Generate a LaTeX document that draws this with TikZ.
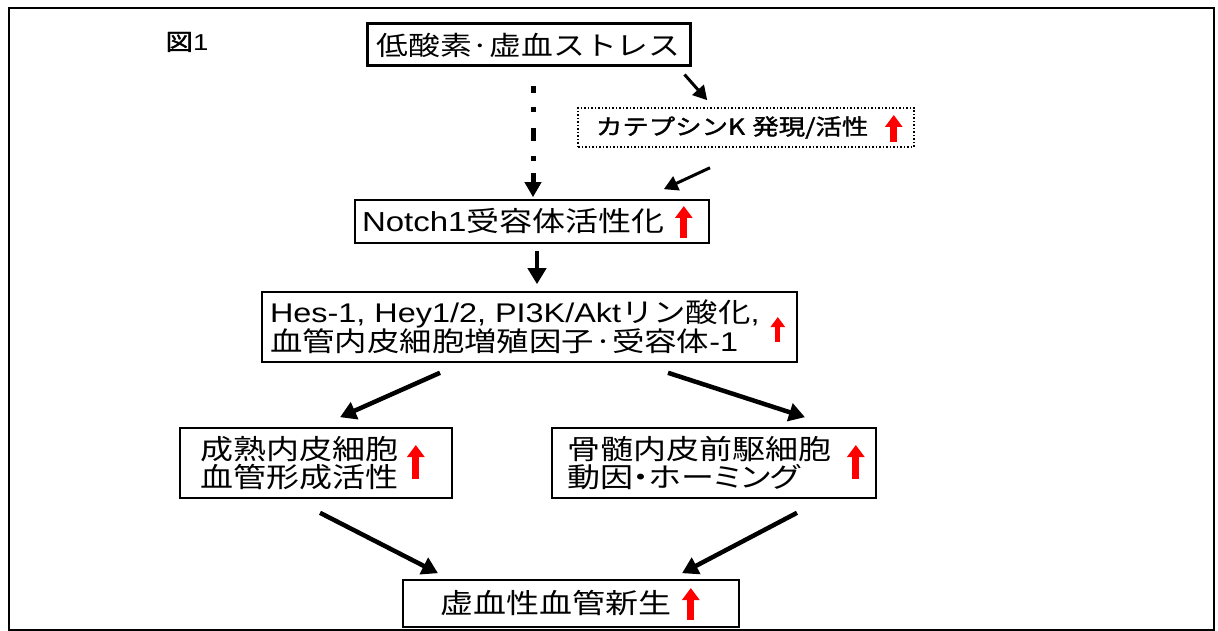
\documentclass[tikz,border=0pt]{standalone}
\usepackage{fontspec}
\setmainfont{Noto Sans CJK JP}[FakeStretch=1.2]
\newfontfamily\boldjp{Noto Sans CJK JP}[FakeStretch=1.2,FakeBold=1.5]
\newfontfamily\paltjp{Noto Sans CJK JP}[FakeStretch=1.2,RawFeature=+palt]
\newfontfamily\lat{Liberation Sans}[FakeStretch=1.2]
\usetikzlibrary{arrows.meta,calc}
\tikzset{
  box/.style={draw, line width=1.6pt, inner ysep=0pt, align=left,
    font=\fontsize{27.5}{28}\selectfont},
  arr/.style={line width=3pt, -{Triangle[width=15pt,length=14pt]}},
  bigarr/.style={line width=4.5pt, -{Triangle[width=18pt,length=16pt]}},
  up/.style={red, line width=7pt, -{Triangle[width=17pt,length=12pt]}},
}
\begin{document}
\begin{tikzpicture}[x=1pt,y=-1pt]
\useasboundingbox (0,0) rectangle (1218,631);
\draw[line width=2.2pt] (9,8) rectangle (1214,630);
\node[font=\boldjp\fontsize{23}{24}\selectfont] (fig) at (187,42) {図{\lat 1}};

\node[box, line width=3pt, align=center, minimum width=323pt, minimum height=42pt,
  font=\fontsize{26.5}{28}\selectfont] (top) at (528.5,45) {低酸素·虚血ストレス};
\node[box, line width=1.5pt, dotted, minimum height=39pt, text width=300pt, inner xsep=18pt,
  font=\boldjp\fontsize{22}{24}\selectfont] (cath) at (746,127.5) {カテプシンK 発現/活性};
\node[box, minimum height=43pt, text width=340pt, inner xsep=7pt] (notch) at (532,221.5) {{\lat Notch1}受容体活性化};
\node[box, minimum height=70pt, text width=519pt, inner xsep=8pt,
  font=\fontsize{27}{28}\selectfont] (hes) at (529.5,327)
  {{\lat Hes-1, Hey1/2, PI3K/Akt}リン酸化{\lat ,}\\血管内皮細胞増殖因子·受容体{\lat -1}};
\node[box, minimum height=70pt, text width=232pt, inner xsep=20pt] (mat) at (316,463)
  {成熟内皮細胞\\血管形成活性};
\node[box, minimum height=70pt, text width=294pt, inner xsep=15pt] (bm) at (714,463)
  {骨髄内皮前駆細胞\\{\paltjp 動因・ホーミング}};
\node[box, minimum height=47pt, text width=262pt, inner xsep=37pt] (isch) at (571,603.5)
  {虚血性血管新生};

% red up arrows
\draw[up] ($(cath.east)+(-21,14.5)$) -- ($(cath.east)+(-21,-12.5)$);
\draw[up] ($(notch.east)+(-26,16.5)$) -- ($(notch.east)+(-26,-15.5)$);
\draw[up, line width=5pt, -{Triangle[width=14pt,length=10pt]}] ($(hes.east)+(-20,15)$) -- ($(hes.east)+(-20,-10)$);
\draw[up] ($(mat.east)+(-37,16)$) -- ($(mat.east)+(-37,-18)$);
\draw[up] ($(bm.east)+(-21,16)$) -- ($(bm.east)+(-21,-18)$);
\draw[up] ($(isch.east)+(-49,16.5)$) -- ($(isch.east)+(-49,-15.5)$);

% connectors
\draw[arr] ($(top.south east)+(-7,7)$) -- ($(cath.north west)+(130,-7)$);
\draw[arr] ($(cath.south)+(-36,20)$) -- ($(notch.north east)+(-46,-10)$);
\draw[line width=5pt, dash pattern=on 7pt off 14pt on 5pt off 16pt on 13pt off 15pt on 5pt off 12pt on 80pt off 0pt,
  -{Triangle[width=16pt,length=15pt]}] ($(top.south)+(4.5,19)$) -- ($(notch.north)+(1,-2)$);
\draw[bigarr] ($(notch.south)+(5,7)$) -- ($(hes.north)+(7.5,-7)$);
\draw[bigarr] ($(hes.south)+(-89.5,10)$) -- ($(mat.north)+(24,-10)$);
\draw[bigarr] ($(hes.south)+(138.5,10)$) -- ($(bm.north)+(91,-10)$);
\draw[bigarr] ($(mat.south)+(4,14)$) -- ($(isch.north)+(-133,-6)$);
\draw[bigarr] ($(bm.south)+(83,14)$) -- ($(isch.north)+(111,-6)$);
\end{tikzpicture}
\end{document}
